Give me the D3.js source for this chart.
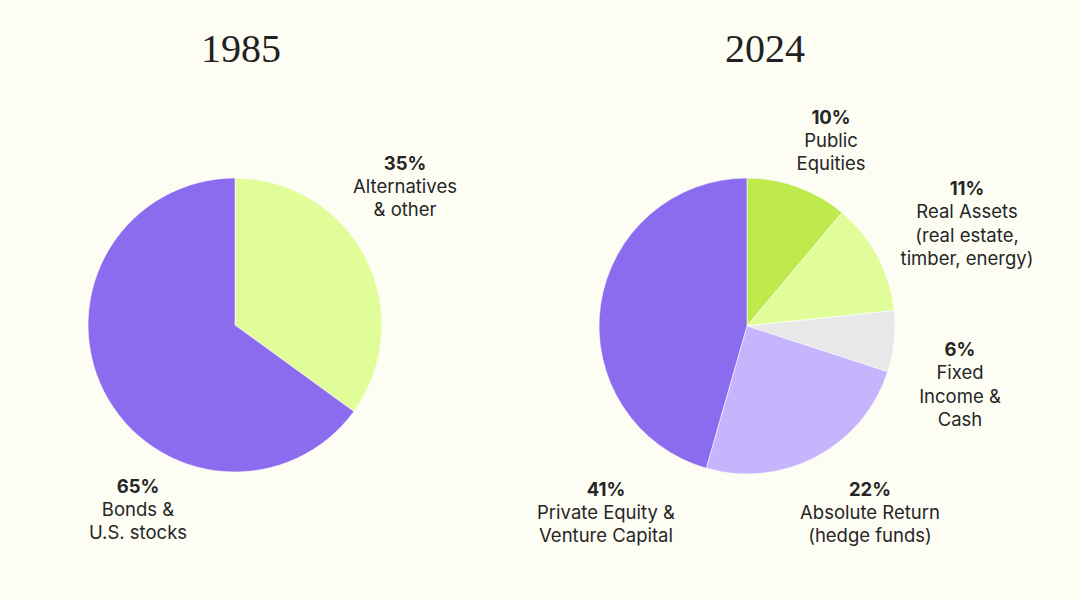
<!DOCTYPE html>
<html>
<head>
<meta charset="utf-8">
<script src="https://cdn.jsdelivr.net/npm/d3@7"></script>
<style>
    body { margin: 0; background: #fdfdf4; }
    svg { display: block; }
</style>
</head>
<body>
<script>
// 1985 allocation
const cats1985 = ['Alternatives & other', 'Bonds & U.S. stocks'];
const vals1985 = [35, 65];
const cols1985 = ['#e1fd9a', '#8b6cef'];
const labels1985 = [
    ['35%', 'Alternatives', '& other'],
    ['65%', 'Bonds &', 'U.S. stocks']
];

// 2024 allocation
const cats2024 = ['Public Equities', 'Real Assets', 'Fixed Income & Cash', 'Absolute Return', 'Private Equity & Venture Capital'];
const vals2024 = [10, 11, 6, 22, 41];
const cols2024 = ['#bfea4c', '#e1fd9a', '#e8e8e8', '#c4b5fd', '#8b6cef'];
const labels2024 = [
    ['10%', 'Public', 'Equities'],
    ['11%', 'Real Assets', '(real estate,', 'timber, energy)'],
    ['6%', 'Fixed', 'Income &', 'Cash'],
    ['22%', 'Absolute Return', '(hedge funds)'],
    ['41%', 'Private Equity &', 'Venture Capital']
];

const width = 1080, height = 600;

let svg = d3.select('body')
    .append('svg')
    .attr('width', width)
    .attr('height', height);

svg.append('rect')
    .attr('width', width)
    .attr('height', height)
    .attr('fill', '#fdfdf4');

// label block centres, relative to the pie centre
const place1985 = [[170, -139], [-97, 184]];
const place2024 = [[84, -186], [220, -103], [213, 58], [123, 186], [-141, 186]];

drawPie({
    title: '1985', cx: 235, cy: 325, r: 147, titleX: 241,
    values: vals1985, colors: cols1985, labels: labels1985, place: place1985
});

drawPie({
    title: '2024', cx: 747, cy: 326, r: 148, titleX: 765,
    values: vals2024, colors: cols2024, labels: labels2024, place: place2024
});

function drawPie(o) {
    let g = svg.append('g')
        .attr('transform', `translate(${o.cx},${o.cy})`);

    let pie = d3.pie().sort(null).value(d => d);
    let arcs = pie(o.values);
    let arc = d3.arc().innerRadius(0).outerRadius(o.r);

    g.selectAll('path')
        .data(arcs)
        .enter()
        .append('path')
        .attr('d', arc)
        .attr('fill', (d, i) => o.colors[i])
        .attr('stroke', 'rgba(255,255,255,0.6)')
        .attr('stroke-width', 1);

    svg.append('text')
        .attr('x', o.titleX)
        .attr('y', 62)
        .attr('text-anchor', 'middle')
        .style('font-family', '"Liberation Serif", "DejaVu Serif", serif')
        .style('font-size', '40px')
        .style('fill', '#222')
        .text(o.title);

    let lineH = 23.3;
    arcs.forEach((d, i) => {
        let lines = o.labels[i];
        let [x, y] = o.place[i];
        let y0 = y - (lines.length - 1) * lineH / 2;
        let t = g.append('text')
            .attr('text-anchor', 'middle')
            .style('font-family', 'Inter, "Noto Sans", sans-serif')
            .style('font-size', '18.5px')
            .style('fill', '#262626');
        lines.forEach((s, j) => {
            t.append('tspan')
                .attr('x', x)
                .attr('y', y0 + j * lineH + 7)
                .style('font-weight', j === 0 ? 700 : 400)
                .text(s);
        });
    });
}
</script>
</body>
</html>
